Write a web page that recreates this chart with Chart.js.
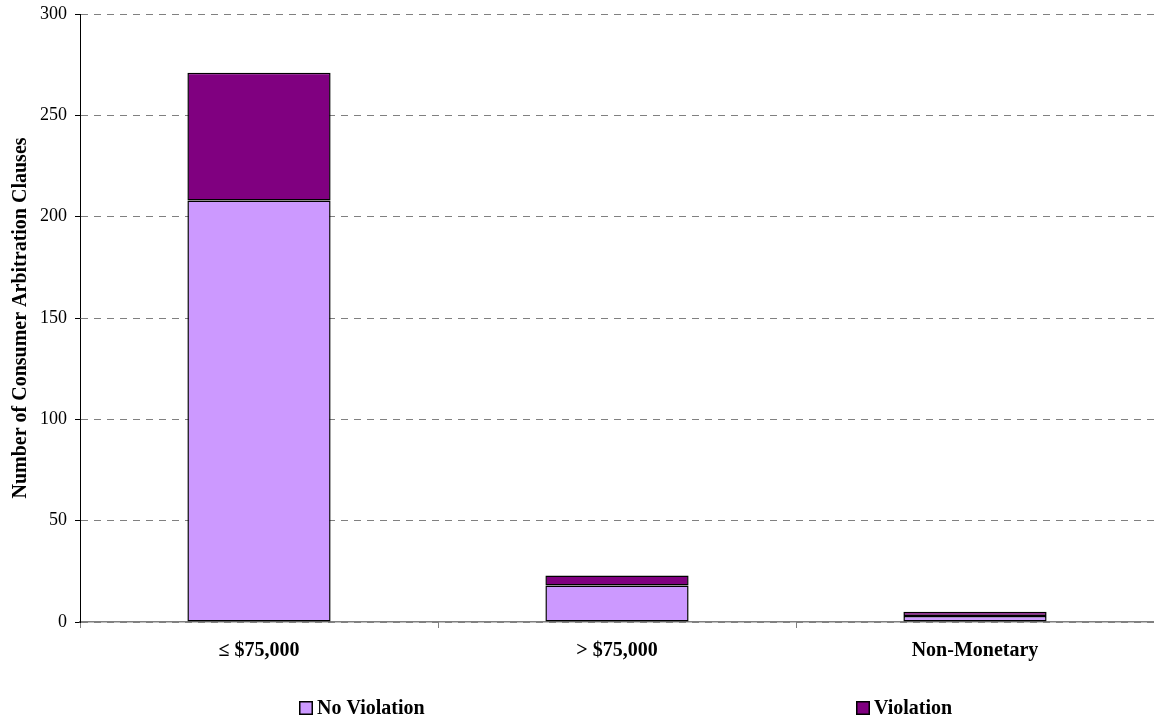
<!DOCTYPE html>
<html>
<head>
<meta charset="utf-8">
<script src="https://cdn.jsdelivr.net/npm/chart.js@4/dist/chart.umd.min.js"></script>
<style>
html,body{margin:0;padding:0;background:#fff;}
#wrap{width:1154px;height:717px;position:relative;overflow:hidden;}
</style>
</head>
<body>
<div id="wrap"><canvas id="c" width="1154" height="717"></canvas></div>
<script>
const categories = ['\u2264 $75,000', '> $75,000', 'Non-Monetary'];
const noViolation = [208, 18, 3];
const violation = [63, 5, 2];
const seriesNames = ['No Violation', 'Violation'];
const seriesColors = ['#CC99FF', '#800080'];
const yTicks = [0, 50, 100, 150, 200, 250, 300];
const yTitle = 'Number of Consumer Arbitration Clauses';

const FONT = "'Liberation Serif', 'Times New Roman', serif";

const bottomLegend = {
  id: 'bottomLegend',
  afterDraw(chart) {
    const ctx = chart.ctx;
    const starts = [299, 856];
    const y = 708;
    const box = 14;
    ctx.save();
    ctx.font = 'bold 20px ' + FONT;
    ctx.textBaseline = 'middle';
    ctx.textAlign = 'left';
    chart.data.datasets.forEach((ds, i) => {
      const x0 = starts[i];
      ctx.fillStyle = ds.backgroundColor;
      ctx.fillRect(x0, y - box / 2, box, box);
      ctx.strokeStyle = '#000';
      ctx.lineWidth = 1.5;
      ctx.strokeRect(x0 + 0.75, y - box / 2 + 0.75, box - 1.5, box - 1.5);
      ctx.fillStyle = '#000';
      ctx.fillText(ds.label, x0 + box + 4, y + 1);
    });
    ctx.restore();
  }
};

new Chart(document.getElementById('c'), {
  type: 'bar',
  data: {
    labels: categories,
    datasets: [
      { label: seriesNames[0], data: noViolation, backgroundColor: seriesColors[0], borderColor: '#000', borderWidth: 1.5, borderSkipped: false },
      { label: seriesNames[1], data: violation, backgroundColor: seriesColors[1], borderColor: '#000', borderWidth: 1.5, borderSkipped: false }
    ]
  },
  options: {
    responsive: false,
    animation: false,
    events: [],
    layout: { padding: { top: 14, left: 0, right: -6, bottom: 0 } },
    datasets: { bar: { categoryPercentage: 1, barPercentage: 0.4 } },
    plugins: { legend: { display: false }, tooltip: { enabled: false } },
    scales: {
      x: {
        stacked: true,
        afterFit(s) { s.height = 95; s.paddingRight = -6; s.paddingLeft = 0; },
        grid: { offset: true, drawOnChartArea: false, tickLength: 6, color: '#808080', tickColor: '#808080' },
        border: { color: '#808080', width: 1.5 },
        ticks: { color: '#000', padding: 11, font: { family: FONT, size: 20, weight: 'bold' }, maxRotation: 0 }
      },
      y: {
        stacked: true,
        min: 0, max: 300,
        afterFit(s) { s.width = 80; s.paddingTop = 0; s.paddingBottom = 0; },
        afterBuildTicks(s) { s.ticks = yTicks.map(v => ({ value: v })); },
        grid: { color: '#808080', lineWidth: 1, tickLength: 5, tickColor: '#000', tickBorderDash: [] },
        border: { color: '#000', width: 1, dash: [7, 6] },
        ticks: { color: '#000', padding: 8, font: { family: FONT, size: 18 } },
        title: { display: true, text: yTitle, color: '#000', font: { family: FONT, size: 20, weight: 'bold' }, padding: { top: 9, bottom: 4 } }
      }
    }
  },
  plugins: [bottomLegend]
});
</script>
</body>
</html>
